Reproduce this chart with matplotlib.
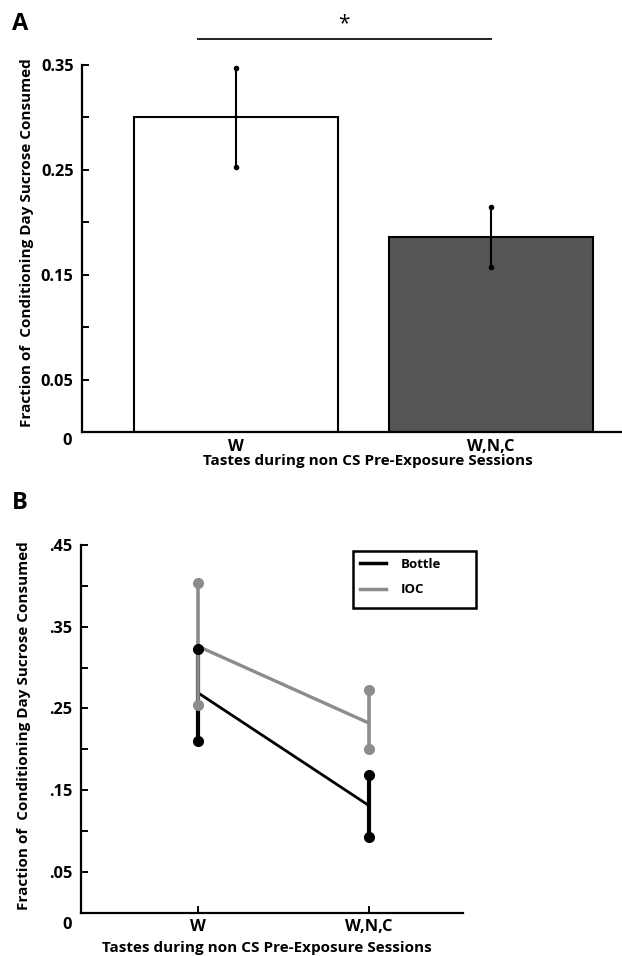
import matplotlib
matplotlib.use("Agg")
import matplotlib.pyplot as plt
from matplotlib.lines import Line2D
from matplotlib.patches import Rectangle
import numpy as np

plt.rcParams["font.family"] = ["Open Sans", "DejaVu Sans"]
plt.rcParams["font.weight"] = "bold"

# ---- panel A data ----
groups = ["W", "W,N,C"]
bar_means = [0.300, 0.186]
bar_sem = [0.047, 0.029]
bar_colors = ["white", "#555555"]
a_ticks = [0.05, 0.10, 0.15, 0.20, 0.25, 0.30, 0.35]
a_ticklabels = ["0.05", "", "0.15", "", "0.25", "", "0.35"]

# ---- panel B data ----
bottle_mean = [0.269, 0.131]
bottle_lo = [0.059, 0.039]
bottle_hi = [0.054, 0.037]
ioc_mean = [0.326, 0.232]
ioc_lo = [0.072, 0.032]
ioc_hi = [0.077, 0.041]
b_ticks = [0.05, 0.10, 0.15, 0.20, 0.25, 0.30, 0.35, 0.40, 0.45]
b_ticklabels = [".05", "", ".15", "", ".25", "", ".35", "", ".45"]

ylab = "Fraction of  Conditioning Day Sucrose Consumed"
xlab = "Tastes during non CS Pre-Exposure Sessions"
W, H = 622, 956
gray = "#8c8c8c"
FS = 11
TFS = 11.8

fig = plt.figure(figsize=(W / 100, H / 100), dpi=100)


def px(x0, y0, x1, y1):
    return [x0 / W, 1 - y1 / H, (x1 - x0) / W, (y1 - y0) / H]


def ftext(x, y, s, **kw):
    return fig.text(x / W, 1 - y / H, s, **kw)


def style(ax):
    for s in ["top", "right"]:
        ax.spines[s].set_visible(False)
    for s in ["left", "bottom"]:
        ax.spines[s].set_linewidth(1.6)
    ax.tick_params(direction="in", length=5, width=1.4, labelsize=TFS, pad=6)


# ---------------- A ----------------
axA = fig.add_axes(px(82, 65, 622, 432))
xa = np.arange(1, len(groups) + 1)
axA.bar(xa, bar_means, width=0.8, color=bar_colors, edgecolor="black", linewidth=1.5, zorder=2)
axA.errorbar(xa, bar_means, yerr=bar_sem, fmt="none", ecolor="black", elinewidth=1.5, capsize=0, zorder=3)
axA.plot(np.r_[xa, xa], np.r_[np.add(bar_means, bar_sem), np.subtract(bar_means, bar_sem)],
         "o", color="black", ms=3, zorder=4)
axA.set_xlim(0.396, 2.514)
axA.set_ylim(0, 0.35)
axA.set_yticks(a_ticks)
axA.set_yticklabels(a_ticklabels)
axA.set_xticks(xa)
axA.set_xticklabels(groups)
style(axA)
axA.tick_params(axis="x", length=0, pad=5)
axA.plot([0.851, 2.0], [0.3745, 0.3745], color="#222222", lw=1.4, clip_on=False)
axA.text(1.424, 0.389, "*", ha="center", va="center", fontsize=15, fontweight="normal")

ftext(72, 441, "0", ha="right", va="center", fontsize=TFS)
ftext(27, 243, ylab, rotation=90, ha="center", va="center", fontsize=FS)
ftext(368, 461, xlab, ha="center", va="center", fontsize=FS)
ftext(12, 24, "A", ha="left", va="center", fontsize=17)

# ---------------- B ----------------
axB = fig.add_axes(px(80.5, 545, 463.5, 912.5))
xb = np.arange(1, len(groups) + 1)
axB.plot(xb, bottle_mean, color="black", lw=2, zorder=2)
axB.errorbar(xb, bottle_mean, yerr=[bottle_lo, bottle_hi], fmt="none", ecolor="black",
             elinewidth=3, capsize=0, zorder=2)
axB.plot(xb, ioc_mean, color=gray, lw=2.4, zorder=3)
axB.errorbar(xb, ioc_mean, yerr=[ioc_lo, ioc_hi], fmt="none", ecolor=gray,
             elinewidth=2.6, capsize=0, zorder=3)
axB.plot(np.r_[xb, xb], np.r_[np.add(bottle_mean, bottle_hi), np.subtract(bottle_mean, bottle_lo)],
         "o", color="black", ms=7, zorder=4)
axB.plot(np.r_[xb, xb], np.r_[np.add(ioc_mean, ioc_hi), np.subtract(ioc_mean, ioc_lo)],
         "o", color=gray, ms=7, zorder=5)
axB.set_xlim(0.312, 2.554)
axB.set_ylim(0, 0.45)
axB.set_yticks(b_ticks)
axB.set_yticklabels(b_ticklabels)
axB.set_xticks(xb)
axB.set_xticklabels(groups)
style(axB)
axB.tick_params(axis="x", pad=5)

handles = [Line2D([], [], color="black", lw=2.5), Line2D([], [], color=gray, lw=2.5)]
leg = fig.legend(handles, ["Bottle", "IOC"], loc="upper left",
                 bbox_to_anchor=(356 / W, 1 - 554 / H), borderaxespad=0, fontsize=9.5,
                 frameon=False, handlelength=2.0, handletextpad=1.1, borderpad=0.3,
                 labelspacing=0.95)
fig.patches.append(Rectangle((353 / W, 1 - 608 / H), 123 / W, 57 / H, transform=fig.transFigure,
                             fill=False, edgecolor="black", linewidth=1.8))

ftext(72, 925, "0", ha="right", va="center", fontsize=TFS)
ftext(24, 726, ylab, rotation=90, ha="center", va="center", fontsize=FS)
ftext(267, 948, xlab, ha="center", va="center", fontsize=FS)
ftext(12, 503, "B", ha="left", va="center", fontsize=17)

fig.savefig("out.png", dpi=100)
